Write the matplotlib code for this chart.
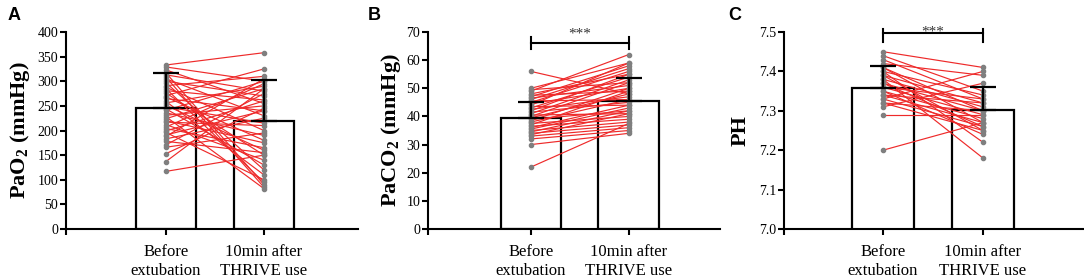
import matplotlib
matplotlib.use("Agg")
import matplotlib.pyplot as plt

plt.rcParams['font.family'] = ['Liberation Serif', 'DejaVu Serif']
plt.rcParams['mathtext.fontset'] = 'custom'
plt.rcParams['mathtext.rm'] = 'Liberation Serif'
plt.rcParams['mathtext.bf'] = 'Liberation Serif:bold'

categories = ["Before\nextubation", "10min after\nTHRIVE use"]

# Panel A: PaO2 (mmHg)
pao2_before = [333, 329, 323, 317, 313, 308, 305, 300, 297, 291, 288, 285, 281, 276, 271, 268,
               265, 259, 256, 251, 248, 244, 241, 236, 231, 228, 224, 220, 217, 212, 207, 204,
               199, 196, 191, 188, 183, 178, 171, 166, 153, 137, 117]
pao2_after = [358, 300, 255, 90, 280, 85, 230, 270, 120, 310, 200, 95, 262, 150, 325, 180,
              240, 110, 290, 160, 215, 130, 300, 190, 250, 82, 285, 175, 210, 140, 295, 165,
              260, 100, 240, 305, 225, 155, 275, 195, 245, 285, 150]
pao2_mean = [246, 220]
pao2_sd = [70, 82]

# Panel B: PaCO2 (mmHg)
paco2_before = [56, 50, 49.5, 49, 48, 47.5, 47, 46.5, 46, 45.5, 45, 44.5, 44, 43.5, 43, 42.5,
                42, 41.5, 41, 40.5, 40, 39.5, 39, 38.5, 38, 37.5, 37, 36.5, 36, 35.5, 35, 34.5,
                34, 33.5, 33, 32, 30, 22]
paco2_after = [48, 59, 52, 62, 55, 49, 58, 51, 57, 46, 56, 50, 59, 44, 54, 47,
               55, 45, 53, 41, 52, 48, 42, 50, 46, 40, 49, 39, 44, 43, 38, 42,
               37, 41, 36, 35, 34, 37.5]
paco2_mean = [39.6, 45.6]
paco2_sd = [5.7, 8.1]

# Panel C: pH
ph_before = [7.45, 7.44, 7.43, 7.42, 7.41, 7.41, 7.40, 7.40, 7.39, 7.39, 7.38, 7.38, 7.37, 7.37,
             7.36, 7.36, 7.35, 7.35, 7.34, 7.34, 7.33, 7.33, 7.32, 7.32, 7.31, 7.29, 7.20]
ph_after = [7.41, 7.35, 7.33, 7.39, 7.30, 7.27, 7.34, 7.22, 7.32, 7.25, 7.31, 7.18, 7.30, 7.26,
            7.29, 7.33, 7.28, 7.24, 7.32, 7.27, 7.40, 7.26, 7.30, 7.25, 7.37, 7.29, 7.27]
ph_mean = [7.358, 7.302]
ph_sd = [0.055, 0.058]

RED = "#ee2a2a"
GREY = "#7f7f7f"

fig = plt.figure(figsize=(10.84, 2.80), dpi=100)

panels = [
    dict(rect=[66/1084, 51/280, 292/1084, 197/280], xlim=(-1.02, 1.96), before=pao2_before,
         after=pao2_after, mean=pao2_mean, sd=pao2_sd, ylim=(0, 400), step=50, fmt="{:.0f}",
         ylabel=r"PaO$_{\mathbf{2}}$ (mmHg)", letter="A", letter_x=8, sig=None, ylabel_x=32),
    dict(rect=[428/1084, 51/280, 292/1084, 197/280], xlim=(-1.05, 1.93), before=paco2_before,
         after=paco2_after, mean=paco2_mean, sd=paco2_sd, ylim=(0, 70), step=10, fmt="{:.0f}",
         ylabel=r"PaCO$_{\mathbf{2}}$ (mmHg)", letter="B", letter_x=368,
         sig=dict(y=66.1, lo=63.8, hi=68.3, ty=69.3), ylabel_x=403),
    dict(rect=[784/1084, 51/280, 300/1084, 197/280], xlim=(-0.99, 2.01), before=ph_before,
         after=ph_after, mean=ph_mean, sd=ph_sd, ylim=(7.0, 7.5), step=0.1, fmt="{:.1f}",
         ylabel="PH", letter="C", letter_x=728,
         sig=dict(y=7.497, lo=7.474, hi=7.508, ty=7.5005), ylabel_x=751),
]

for p in panels:
    ax = fig.add_axes(p["rect"])
    x = [0, 1]
    ax.bar(x, p["mean"], width=0.62, color="white", edgecolor="black", linewidth=1.6, zorder=1)
    for b, a in zip(p["before"], p["after"]):
        ax.plot([0, 1], [b, a], color=RED, linewidth=0.85, zorder=2)
    ax.plot([0] * len(p["before"]), p["before"], 'o', color=GREY, markersize=3, zorder=3)
    ax.plot([1] * len(p["after"]), p["after"], 'o', color=GREY, markersize=3, zorder=3)
    ax.errorbar(x, p["mean"], yerr=[[0, 0], p["sd"]], fmt='none', ecolor="black",
                elinewidth=1.6, capsize=9.5, capthick=1.6, zorder=4)
    ax.set_xlim(*p["xlim"])
    ax.set_ylim(*p["ylim"])
    lo, hi = p["ylim"]
    n = int(round((hi - lo) / p["step"]))
    yt = [lo + i * p["step"] for i in range(n + 1)]
    ax.set_yticks(yt)
    ax.set_yticklabels([p["fmt"].format(v) for v in yt], fontsize=10)
    ax.set_xticks([p["xlim"][0], 0, 1])
    ax.set_xticklabels(["", categories[0], categories[1]], fontsize=12, linespacing=1.2)
    ax.tick_params(axis='both', direction='out', length=4, width=1.5, pad=1.5)
    ax.tick_params(axis='x', pad=7)
    for s in ["top", "right"]:
        ax.spines[s].set_visible(False)
    for s in ["left", "bottom"]:
        ax.spines[s].set_linewidth(1.5)
    ax.set_ylabel(p["ylabel"], fontsize=16, fontweight="bold")
    ax.yaxis.set_label_coords((p["ylabel_x"] - p["rect"][0] * 1084) / (p["rect"][2] * 1084), 0.5)
    fig.text(p["letter_x"] / 1084, 1 - 16 / 280, p["letter"], fontsize=13, fontweight="bold",
             family="Liberation Sans", va="center", ha="left")
    sig = p["sig"]
    if sig:
        ax.plot([0, 1], [sig["y"], sig["y"]], color="black", linewidth=1.5, clip_on=False)
        ax.plot([0, 0], [sig["lo"], sig["hi"]], color="black", linewidth=1.5, clip_on=False)
        ax.plot([1, 1], [sig["lo"], sig["hi"]], color="black", linewidth=1.5, clip_on=False)
        ax.text(0.5, sig["ty"], "***", ha="center", va="center", fontsize=11, color="#333333",
                clip_on=False)

fig.savefig("out.png", dpi=100)
